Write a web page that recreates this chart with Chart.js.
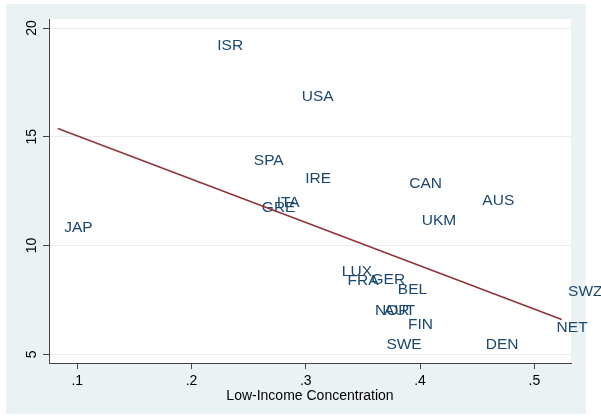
<!DOCTYPE html>
<html>
<head>
<meta charset="utf-8">
<script src="https://cdn.jsdelivr.net/npm/chart.js@4"></script>
<style>
  html, body { margin: 0; padding: 0; background: #ffffff; }
  #wrap { width: 601px; height: 418px; }
</style>
</head>
<body>
<div id="wrap"><canvas id="c" width="601" height="418"></canvas></div>
<script>
// Country codes and their values
const countries = ['ISR','USA','SPA','IRE','GRE','ITA','LUX','FRA','GER','BEL','NOR','AUT','FIN','SWE','CAN','AUS','UKM','SWZ','NET','DEN','JAP'];
const lowIncomeConcentration = [0.217,0.291,0.249,0.294,0.256,0.269,0.326,0.331,0.352,0.375,0.355,0.363,0.384,0.365,0.385,0.449,0.396,0.524,0.514,0.452,0.083];
const outcomeValues = [19.26,16.92,13.98,13.14,11.79,12.02,8.85,8.42,8.47,8.01,7.07,7.07,6.40,5.51,12.91,12.10,11.18,7.93,6.27,5.51,10.90];

// Axis ticks
const xTickValues = [0.1, 0.2, 0.3, 0.4, 0.5];
const xTickLabels = ['.1', '.2', '.3', '.4', '.5'];
const yTickValues = [5, 10, 15, 20];
const yTickLabels = ['5', '10', '15', '20'];

const FONT = '"Liberation Sans", Arial, Helvetica, sans-serif';
const LABEL_SIZE = 15.5;
const TICK_SIZE = 14;

// Least-squares line over the observed x range
function linearFit(xs, ys) {
  const n = xs.length;
  const mx = xs.reduce((s, v) => s + v, 0) / n;
  const my = ys.reduce((s, v) => s + v, 0) / n;
  let sxy = 0, sxx = 0;
  for (let i = 0; i < n; i++) {
    sxy += (xs[i] - mx) * (ys[i] - my);
    sxx += (xs[i] - mx) * (xs[i] - mx);
  }
  const b = sxy / sxx;
  return { a: my - b * mx, b };
}
const fit = linearFit(lowIncomeConcentration, outcomeValues);
const xLo = Math.min(...lowIncomeConcentration);
const xHi = Math.max(...lowIncomeConcentration);
const fitPoints = [
  { x: xLo, y: fit.a + fit.b * xLo },
  { x: xHi, y: fit.a + fit.b * xHi }
];
const scatterPoints = lowIncomeConcentration.map((x, i) => ({ x, y: outcomeValues[i] }));

// Graph region and plot region backgrounds
const backgroundPlugin = {
  id: 'regions',
  beforeDraw(chart) {
    const { ctx, chartArea } = chart;
    ctx.save();
    ctx.fillStyle = '#ffffff';
    ctx.fillRect(0, 0, chart.width, chart.height);
    ctx.fillStyle = '#eaf2f3';
    ctx.fillRect(6, 4, 580, 410);
    ctx.fillStyle = '#ffffff';
    ctx.fillRect(chartArea.left, chartArea.top, chartArea.right - chartArea.left, chartArea.bottom - chartArea.top);
    ctx.restore();
  }
};

// Country name next to each observation
const markerLabelPlugin = {
  id: 'markerLabels',
  afterDatasetDraw(chart, args) {
    if (args.index !== 1) return;
    const { ctx } = chart;
    ctx.save();
    ctx.font = LABEL_SIZE + 'px ' + FONT;
    ctx.fillStyle = '#1a476f';
    ctx.textAlign = 'left';
    ctx.textBaseline = 'alphabetic';
    args.meta.data.forEach((pt, i) => {
      ctx.fillText(countries[i], pt.x + 6.3, pt.y + 0.358 * LABEL_SIZE);
    });
    ctx.restore();
  }
};

// Vertical y tick labels
const yTickLabelPlugin = {
  id: 'yTickLabels',
  afterDraw(chart) {
    const { ctx } = chart;
    const scale = chart.scales.y;
    ctx.save();
    ctx.font = TICK_SIZE + 'px ' + FONT;
    ctx.fillStyle = '#000000';
    ctx.textAlign = 'center';
    ctx.textBaseline = 'alphabetic';
    scale.ticks.forEach((t, i) => {
      const py = scale.getPixelForValue(t.value);
      ctx.save();
      ctx.translate(31.3, py);
      ctx.rotate(-Math.PI / 2);
      ctx.fillText(yTickLabels[i], 0, 0.358 * TICK_SIZE);
      ctx.restore();
    });
    ctx.restore();
  }
};

new Chart(document.getElementById('c'), {
  type: 'scatter',
  data: {
    datasets: [
      {
        type: 'line',
        data: fitPoints,
        borderColor: '#90353b',
        borderWidth: 1.6,
        pointRadius: 0,
        fill: false,
        tension: 0
      },
      {
        type: 'scatter',
        data: scatterPoints,
        pointRadius: 0,
        pointHoverRadius: 0
      }
    ]
  },
  options: {
    responsive: false,
    animation: false,
    events: [],
    layout: { padding: { left: 0, top: 19, right: 30, bottom: 0 } },
    plugins: { legend: { display: false }, tooltip: { enabled: false } },
    scales: {
      x: {
        type: 'linear',
        min: 0.07523,
        max: 0.5321,
        afterFit(s) { s.height = 55; },
        afterBuildTicks(s) { s.ticks = xTickValues.map(v => ({ value: v })); },
        ticks: {
          callback: (v, i) => xTickLabels[i],
          font: { family: FONT, size: TICK_SIZE },
          color: '#000000',
          padding: 4,
          maxRotation: 0,
          minRotation: 0,
          autoSkip: false
        },
        grid: { drawOnChartArea: false, drawTicks: true, tickLength: 6, tickColor: '#444444', tickWidth: 1 },
        border: { display: true, color: '#444444', width: 1 },
        title: {
          display: true,
          text: 'Low-Income Concentration',
          font: { family: FONT, size: TICK_SIZE },
          color: '#000000',
          padding: { top: 0, bottom: 13 }
        }
      },
      y: {
        type: 'linear',
        min: 4.60,
        max: 20.414,
        afterFit(s) { s.width = 49; },
        afterBuildTicks(s) { s.ticks = yTickValues.map(v => ({ value: v })); },
        ticks: { display: false },
        grid: { color: '#e6eef0', lineWidth: 1, drawTicks: true, tickLength: 6, tickColor: '#444444', tickWidth: 1 },
        border: { display: true, color: '#444444', width: 1 }
      }
    }
  },
  plugins: [backgroundPlugin, markerLabelPlugin, yTickLabelPlugin]
});
</script>
</body>
</html>
